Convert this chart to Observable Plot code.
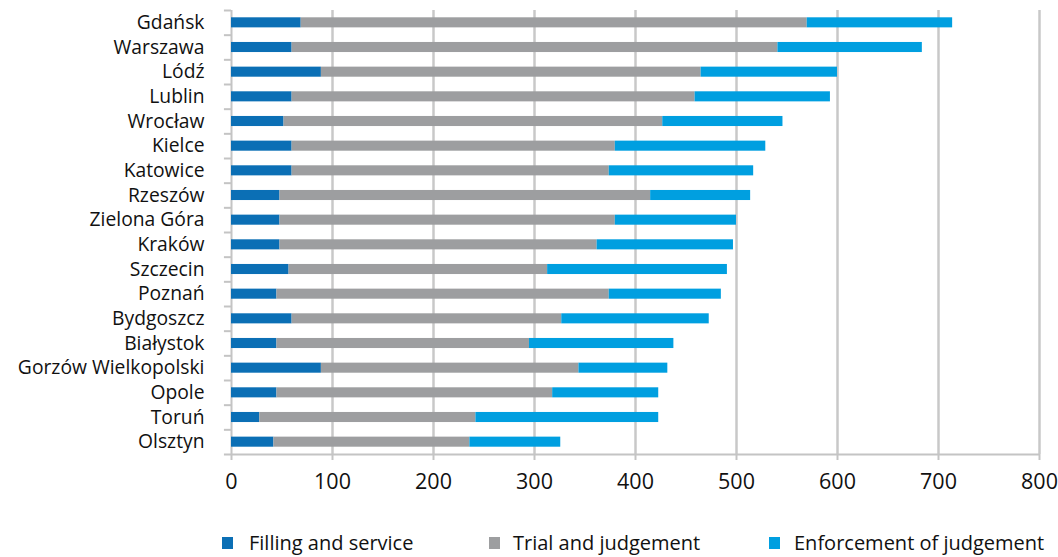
<!DOCTYPE html>
<html>
<head>
<meta charset="utf-8">
<script src="https://cdn.jsdelivr.net/npm/d3@7"></script>
<script src="https://cdn.jsdelivr.net/npm/@observablehq/plot@0.6"></script>
<style>
  html, body { margin: 0; padding: 0; background: #fff; }
  #chart { width: 1058px; }
  .legend { position: relative; width: 1058px; height: 47px; font-family: "Open Sans", sans-serif; font-size: 20px; color: #111; }
  .legend .sw { position: absolute; top: 27px; width: 11px; height: 12px; }
  .legend .lb { position: absolute; top: 20px; line-height: 26px; white-space: nowrap; }
</style>
</head>
<body>
<div id="chart"></div>
<script>
const cities = ["Gdańsk", "Warszawa", "Lódź", "Lublin", "Wrocław", "Kielce", "Katowice", "Rzeszów", "Zielona Góra", "Kraków", "Szczecin", "Poznań", "Bydgoszcz", "Białystok", "Gorzów Wielkopolski", "Opole", "Toruń", "Olsztyn"];
const filling     = [69, 60, 89, 60, 52, 60, 60, 48, 48, 48, 57, 45, 60, 45, 89, 45, 28, 42];
const trial       = [501, 481, 376, 399, 375, 320, 314, 367, 332, 314, 256, 329, 267, 250, 255, 273, 214, 194];
const enforcement = [144, 143, 135, 134, 119, 149, 143, 99, 120, 135, 178, 111, 146, 143, 88, 105, 181, 90];
const seriesNames = ["Filling and service", "Trial and judgement", "Enforcement of judgement"];
const seriesColors = ["#0b6fb5", "#9d9ea0", "#009fe0"];
const xTicks = [0, 100, 200, 300, 400, 500, 600, 700, 800];

const seriesValues = [filling, trial, enforcement];
const data = cities.flatMap((city, i) => seriesNames.map((s, k) => ({city, series: s, value: seriesValues[k][i]})));

const W = 1058, H = 510, mt = 10, mb = 56, ml = 231, mr = 19;
const step = (H - mt - mb) / cities.length;
const axisGray = "#c4c4c4";

const chart = Plot.plot({
  width: W, height: H,
  marginTop: mt, marginBottom: mb, marginLeft: ml, marginRight: mr,
  style: {fontFamily: "'Open Sans', sans-serif", background: "white", color: "#111"},
  x: {domain: [0, 800], axis: null},
  y: {domain: cities, padding: 0, round: false, axis: null},
  color: {domain: seriesNames, range: seriesColors},
  marks: [
    Plot.ruleX(xTicks.slice(1), {stroke: "#c8c8c8", strokeWidth: 2.5}),
    Plot.ruleX([0], {stroke: axisGray, strokeWidth: 2}),
    Plot.ruleY(cities, {y: d => d, x1: -7, x2: 0, dy: -step / 2, stroke: axisGray, strokeWidth: 2}),
    Plot.ruleY([cities[cities.length - 1]], {y: d => d, x1: -7, x2: 800, dy: step / 2, stroke: axisGray, strokeWidth: 2}),
    Plot.barX(data, {y: "city", x: "value", fill: "series", insetTop: 7.3, insetBottom: 7.3}),
    Plot.axisX(xTicks, {tickSize: 6, tickPadding: 13, fontSize: 21.5, stroke: axisGray, fill: "#111", strokeWidth: 2, label: null}),
    Plot.axisY({tickSize: 0, tickPadding: 27, fontSize: 19.3, fill: "#111", label: null})
  ]
});
document.getElementById("chart").appendChild(chart);

const legend = document.createElement("div");
legend.className = "legend";
const legendPos = [[222, 249], [489, 513], [769, 794]];
seriesNames.forEach((name, i) => {
  const sw = document.createElement("div");
  sw.className = "sw";
  sw.style.left = legendPos[i][0] + "px";
  sw.style.background = seriesColors[i];
  const lb = document.createElement("div");
  lb.className = "lb";
  lb.style.left = legendPos[i][1] + "px";
  lb.textContent = name;
  legend.appendChild(sw);
  legend.appendChild(lb);
});
document.getElementById("chart").appendChild(legend);
</script>
</body>
</html>
